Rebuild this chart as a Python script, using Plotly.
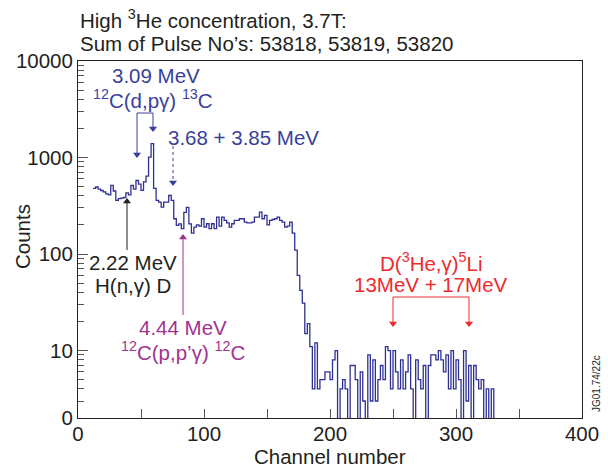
import plotly.graph_objects as go

# ---------------- data ----------------
bin_width = 2
counts = [
    480, 495, 470, 455, 440, 420, 410, 515, 450, 360,   # 12-30
    375, 380, 385, 430, 410, 513, 470, 578, 530, 456,   # 32-50
    560, 640, 1010, 1390, 480, 360, 345, 306, 345, 345, # 52-70
    404, 360, 232, 198, 205, 183, 270, 305, 205, 165,   # 72-90
    190, 200, 195, 232, 190, 206, 183, 206, 183, 241,   # 92-110
    195, 241, 223, 210, 190, 206, 223, 223, 232, 232,   # 112-130
    214, 210, 210, 214, 241, 241, 272, 232, 251, 200,   # 132-150
    223, 228, 232, 241, 223, 214, 190, 195, 214, 165,   # 152-170
    110, 60, 42, 31, 15, 19, 11, 4, 12, 4,              # 172-190
    5, 5, 6, 6, 5, 8, 10, 0, 4, 5,                      # 192-210
    4, 0, 7, 7, 5, 0, 6, 3, 0, 9,                       # 212-230
    3, 8, 3, 5, 7, 5, 11, 10, 4, 10,                    # 232-250
    6, 4, 8, 4, 6, 9, 4, 0, 8, 5,                       # 252-270
    4, 7, 0, 7, 9, 9, 8, 10, 8, 6,                      # 272-290
    9, 4, 10, 4, 8, 5, 0, 10, 3, 7,                     # 292-310
    0, 7, 5, 4, 5, 0, 4, 0, 4, 0,                       # 312-330
]
first_channel = 12
channels = [first_channel + bin_width * i for i in range(len(counts))]

x_ticks = [0, 100, 200, 300, 400]
x_tick_labels = ["0", "100", "200", "300", "400"]
x_minor_ticks = [50, 150, 250, 350]
y_ticks = [2, 10, 100, 1000, 10000]
y_tick_labels = ["0", "10", "100", "1000", "10000"]
y_minor = [v * m for v in (1, 10, 100, 1000) for m in range(2, 10) if v * m > 2]

# ---------------- layout helpers (pixel -> paper) ----------------
W, H = 608, 467
L, R, T, B = 78, 26, 61, 49
PW, PH = W - L - R, H - T - B


def px(x):
    return (x - L) / PW


def py(y):
    return (H - B - y) / PH


FONT = "Liberation Sans, Arial, Helvetica, sans-serif"
FS = 20.5
BLUE = "#3b3f9c"
LINE = "#2e3192"
MAG = "#a0338f"
RED = "#ee2a2f"
BLK = "#231f20"

# step histogram edges
xs = channels + [channels[-1] + bin_width]
ys = [max(c, 1) for c in counts] + [max(counts[-1], 1)]

fig = go.Figure()
fig.add_trace(go.Scatter(x=xs, y=ys, mode="lines", line=dict(color=LINE, width=1.3, shape="hv"),
                         showlegend=False, hoverinfo="skip"))

ann = []
shapes = []


def text(x, y, s, color, size=FS, xanchor="center", **kw):
    ann.append(dict(x=px(x), y=py(y), xref="paper", yref="paper", text=s, showarrow=False,
                    font=dict(family=FONT, size=size, color=color), xanchor=xanchor,
                    yanchor="middle", **kw))


def seg(x0, y0, x1, y1, color, dash="solid"):
    shapes.append(dict(type="line", xref="paper", yref="paper", x0=px(x0), x1=px(x1),
                       y0=py(y0), y1=py(y1), line=dict(color=color, width=1, dash=dash)))


heads = []  # (x, y, symbol, color) in paper units on overlay axes


def arrow(x, ytip, ytail, color, dash="solid"):
    down = ytip > ytail
    hl = 7
    base = ytip - hl if down else ytip + hl
    seg(x, ytail, x, base + (2 if down else -2), color, dash)
    heads.append((px(x), py((ytip + base) / 2), "triangle-down" if down else "triangle-up", color))


# title lines
text(78, 19, "High <sup>3</sup>He concentration, 3.7T:", BLK, xanchor="left")
text(78, 44, "Sum of Pulse No\u2019s: 53818, 53819, 53820", BLK, xanchor="left")

# axis titles
text(330, 456, "Channel number", BLK)
text(22, 237, "Counts", BLK, textangle=-90)

# 3.09 MeV
text(156, 76, "3.09 MeV", BLUE)
text(153, 99, "<sup>12</sup>C(d,p\u03b3) <sup>13</sup>C", BLUE)
seg(137, 113, 153, 113, BLUE)
arrow(137, 158, 113, BLUE)
arrow(153, 132, 113, BLUE)

# 3.68 + 3.85 MeV
text(166, 137, "3.68 + 3.85 MeV", BLUE, xanchor="left")
arrow(173, 186, 146, BLUE, dash="dot")

# 2.22 MeV
text(133, 262, "2.22 MeV", BLK)
text(133, 285, "H(n,\u03b3) D", BLK)
arrow(127, 198, 250, BLK)

# 4.44 MeV
text(183, 327, "4.44 MeV", MAG)
text(183, 351, "<sup>12</sup>C(p,p\u2019\u03b3) <sup>12</sup>C", MAG)
arrow(183, 234, 315, MAG)

# D(3He,g)5Li
text(431, 262, "D(<sup>3</sup>He,\u03b3)<sup>5</sup>Li", RED)
text(431, 284, "13MeV + 17MeV", RED)
seg(393, 297, 469, 297, RED)
arrow(393, 327, 297, RED)
arrow(469, 327, 297, RED)

# code label
text(596, 384, "JG01.74/22c", BLK, size=10, textangle=-90)

# arrowheads on an invisible overlay (paper-like 0..1 axes)
fig.add_trace(go.Scatter(
    x=[h[0] for h in heads], y=[h[1] for h in heads], mode="markers",
    marker=dict(symbol=[h[2] for h in heads], color=[h[3] for h in heads], size=7,
                line=dict(width=0)),
    xaxis="x2", yaxis="y2", showlegend=False, hoverinfo="skip", cliponaxis=False))

fig.update_layout(
    width=W, height=H,
    margin=dict(l=L, r=R, t=T, b=B, autoexpand=False),
    paper_bgcolor="white", plot_bgcolor="white",
    font=dict(family=FONT, size=FS, color=BLK),
    annotations=ann, shapes=shapes,
    xaxis=dict(range=[0, 400], tickvals=x_ticks, ticktext=x_tick_labels, ticks="inside",
               ticklen=9, tickcolor="#555", tickwidth=1,
               minor=dict(tickvals=x_minor_ticks, ticks="inside", ticklen=9, tickcolor="#555",
                          tickwidth=1),
               showline=True, linecolor=BLK,
               linewidth=1, mirror=True, showgrid=False, zeroline=False, automargin=False,
               ticklabelstandoff=-3, tickfont=dict(size=FS, color=BLK)),
    yaxis=dict(type="log", range=[0.30103, 4], tickvals=y_ticks, ticktext=y_tick_labels,
               ticks="inside", ticklen=10, tickcolor="#555", tickwidth=1,
               minor=dict(tickvals=y_minor, ticks="inside", ticklen=6, tickcolor="#555", tickwidth=1),
               showline=True, linecolor=BLK, linewidth=1, mirror=True, showgrid=False,
               zeroline=False, automargin=False, tickfont=dict(size=FS, color=BLK)),
    xaxis2=dict(overlaying="x", range=[0, 1], visible=False, fixedrange=True),
    yaxis2=dict(overlaying="y", range=[0, 1], visible=False, fixedrange=True),
)

fig.write_html("out.html")
